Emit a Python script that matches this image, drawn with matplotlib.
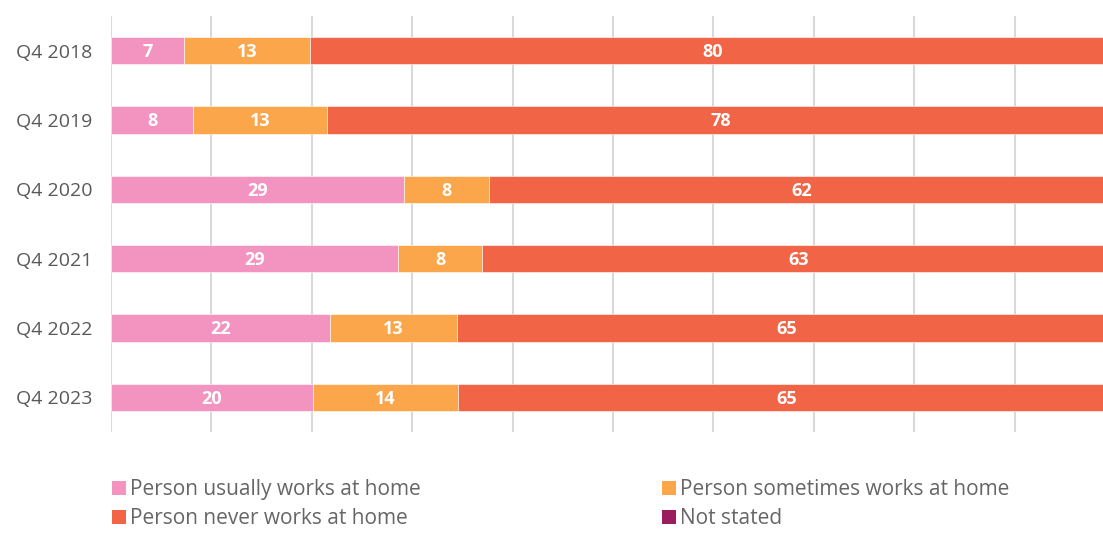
import matplotlib
matplotlib.use("Agg")
import matplotlib.pyplot as plt
from matplotlib.patches import Patch
import numpy as np

categories = ["Q4 2018", "Q4 2019", "Q4 2020", "Q4 2021", "Q4 2022", "Q4 2023"]
usually = [7.3, 8.2, 29.2, 28.6, 21.8, 20.1]
sometimes = [12.5, 13.3, 8.4, 8.4, 12.7, 14.5]
never = [80.2, 78.5, 62.4, 63.0, 65.5, 65.4]
not_stated = [0.0, 0.0, 0.0, 0.0, 0.0, 0.0]
labels_usually = ["7", "8", "29", "29", "22", "20"]
labels_sometimes = ["13", "13", "8", "8", "13", "14"]
labels_never = ["80", "78", "62", "63", "65", "65"]

series_names = ["Person usually works at home", "Person sometimes works at home",
                "Person never works at home", "Not stated"]
colors = ["#F393BF", "#FBA64B", "#F26446", "#9B1D5E"]

plt.rcParams['font.family'] = ['Open Sans', 'DejaVu Sans']

W, H = 1103, 534
fig = plt.figure(figsize=(W / 100, H / 100), dpi=100)
ax = fig.add_axes([111 / W, (H - 432) / H, 1004 / W, 416 / H])

y = np.arange(len(categories))
left = np.zeros(len(categories))
data = [usually, sometimes, never, not_stated]
lbls = [labels_usually, labels_sometimes, labels_never, None]
for vals, col, name, lab in zip(data, colors, series_names, lbls):
    vals = np.array(vals)
    ax.barh(y, vals, left=left, height=0.39, color=col, label=name, zorder=3,
            edgecolor="white", linewidth=0.4)
    if lab is not None:
        for yi, (l, v, t) in enumerate(zip(left, vals, lab)):
            ax.text(l + v / 2, yi + 0.02, t, ha="center", va="center", color="white",
                    fontsize=13, fontweight="bold", zorder=4)
    left = left + vals

ax.set_xlim(0, 100)
ax.set_ylim(5.5, -0.5)
ax.set_xticks(np.arange(0, 101, 10))
ax.xaxis.grid(True, color="#D9D9D9", linewidth=1.5, zorder=0)
ax.tick_params(axis="x", length=0, labelbottom=False)
ax.tick_params(axis="y", length=0, pad=13.5, labelsize=14, labelcolor="#595959")
ax.set_yticks(y)
ax.set_yticklabels(categories)
for s in ax.spines.values():
    s.set_visible(False)

handles = [Patch(facecolor=c) for c in colors]
kw = dict(loc="upper left", frameon=False, fontsize=15, labelcolor="#666666",
          handlelength=0.65, handleheight=0.65, handletextpad=0.2,
          labelspacing=0.38, borderpad=0, borderaxespad=0)
leg1 = fig.legend([handles[0], handles[2]], [series_names[0], series_names[2]],
                  bbox_to_anchor=(112 / W, (H - 479) / H), **kw)
leg2 = fig.legend([handles[1], handles[3]], [series_names[1], series_names[3]],
                  bbox_to_anchor=(662 / W, (H - 479) / H), **kw)

fig.savefig("out.png", dpi=100)
